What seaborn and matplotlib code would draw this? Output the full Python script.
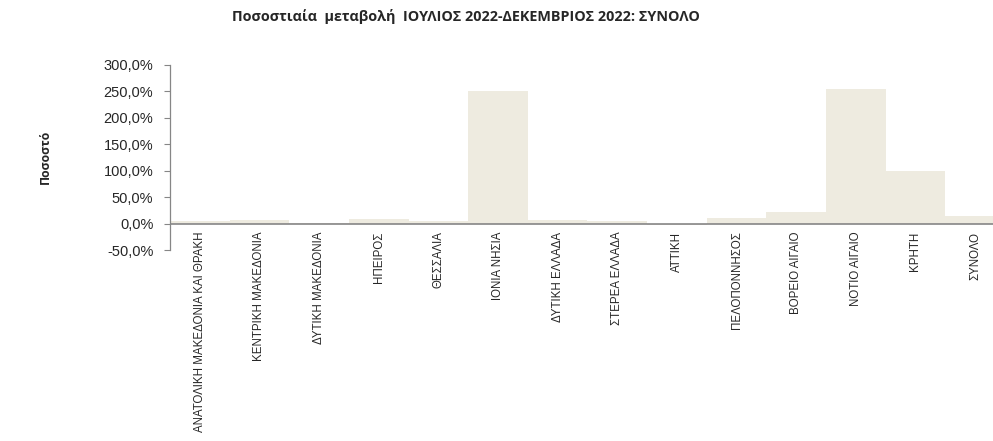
import pandas as pd
import seaborn as sns
from matplotlib import pyplot as plt
from matplotlib import transforms
from matplotlib.ticker import FuncFormatter

regions = ['ΑΝΑΤΟΛΙΚΗ ΜΑΚΕΔΟΝΙΑ ΚΑΙ ΘΡΑΚΗ', 'ΚΕΝΤΡΙΚΗ ΜΑΚΕΔΟΝΙΑ', 'ΔΥΤΙΚΗ ΜΑΚΕΔΟΝΙΑ',
           'ΗΠΕΙΡΟΣ', 'ΘΕΣΣΑΛΙΑ', 'ΙΟΝΙΑ ΝΗΣΙΑ', 'ΔΥΤΙΚΗ ΕΛΛΑΔΑ', 'ΣΤΕΡΕΑ ΕΛΛΑΔΑ',
           'ΑΤΤΙΚΗ', 'ΠΕΛΟΠΟΝΝΗΣΟΣ', 'ΒΟΡΕΙΟ ΑΙΓΑΙΟ', 'ΝΟΤΙΟ ΑΙΓΑΙΟ', 'ΚΡΗΤΗ', 'ΣΥΝΟΛΟ']
change = [4.0, 7.0, 0.5, 8.0, 4.0, 251.0, 7.0, 4.0, -3.0, 11.0, 21.0, 255.0, 100.0, 15.0]

df = pd.DataFrame({'region': regions, 'change': change})

sns.set_style("white")
plt.rcParams['font.family'] = ['Liberation Sans', 'DejaVu Sans']

fig = plt.figure(figsize=(9.93, 4.41), dpi=100)
ax = fig.add_axes([170 / 993, 1 - 250 / 441, 1 - 170 / 993, (250 - 65) / 441])

sns.barplot(data=df, x='region', y='change', color='#EEEBE0', saturation=1,
            width=1.0, linewidth=0, ax=ax)

ax.set_ylim(-50, 300)
ax.set_yticks(range(-50, 301, 50))
ax.yaxis.set_major_formatter(FuncFormatter(lambda v, p: f"{v:.1f}%".replace('.', ',')))
ax.set_xlim(-0.5, 13.3)

for s in ['top', 'right', 'bottom']:
    ax.spines[s].set_visible(False)
ax.spines['left'].set_color('#868686')
ax.spines['left'].set_linewidth(0.9)
ax.axhline(0, color='#868686', lw=1.2, zorder=3)

ax.tick_params(axis='y', left=True, length=4, color='#868686', labelsize=10.5, pad=8)
ax.set_xticks(range(len(regions)))
ax.set_xticklabels([])
ax.tick_params(axis='x', bottom=False)

# category labels hang just under the zero line
offset = ax.transData + transforms.ScaledTranslation(0, -8 / 100, fig.dpi_scale_trans)
for i, name in enumerate(regions):
    ax.text(i, 0, name, rotation=90, ha='center', va='top', fontsize=8.3,
            transform=offset, clip_on=False)
ax.set_xlabel('')
ax.set_ylabel('')

fig.text(45 / 993, 1 - 157 / 441, 'Ποσοστό', rotation=90, ha='center', va='center',
         fontsize=8.8, fontweight='bold', family=['Open Sans', 'DejaVu Sans'])
fig.text(466 / 993, 1 - 17 / 441, 'Ποσοστιαία  μεταβολή  ΙΟΥΛΙΟΣ 2022-ΔΕΚΕΜΒΡΙΟΣ 2022: ΣΥΝΟΛΟ',
         ha='center', va='center', fontsize=10.4, fontweight='bold',
         family=['Open Sans', 'DejaVu Sans'])

fig.savefig('out.png', dpi=100)
plt.close()
